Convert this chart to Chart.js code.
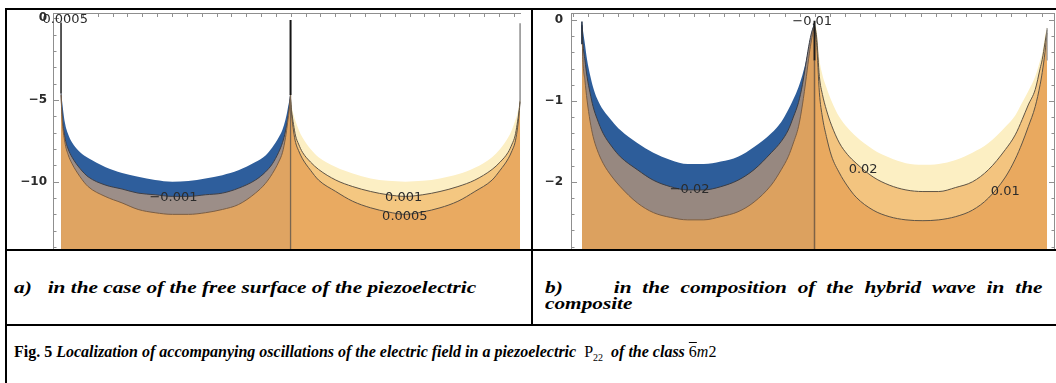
<!DOCTYPE html>
<html><head><meta charset="utf-8">
<script src="https://cdn.jsdelivr.net/npm/chart.js@4.4.1/dist/chart.umd.min.js"></script>
<style>
html,body{margin:0;padding:0;background:#fff;width:1056px;height:383px;overflow:hidden;position:relative;}
.ln{position:absolute;background:#000;z-index:5;}
.cap{position:absolute;font-family:"Liberation Serif","Times New Roman",serif;font-weight:bold;font-style:italic;font-size:16px;line-height:16px;color:#000;white-space:nowrap;z-index:6;transform-origin:0 0;}
.wide{transform:scaleX(1.33);}
.rg{font-weight:normal;font-style:normal;}
#wa{position:absolute;left:8px;top:9px;width:514px;height:240px;}
#wb{position:absolute;left:534px;top:9px;width:522px;height:240px;}
</style></head><body>
<div id="wa"><canvas id="ca"></canvas></div>
<div id="wb"><canvas id="cb"></canvas></div>

<div class="ln" style="left:5px;top:8px;width:1051px;height:2px"></div>
<div class="ln" style="left:5px;top:8px;width:2px;height:375px"></div>
<div class="ln" style="left:531px;top:8px;width:2px;height:318px"></div>
<div class="ln" style="left:5px;top:249px;width:1051px;height:2px"></div>
<div class="ln" style="left:5px;top:324px;width:1051px;height:2px"></div>

<div class="cap wide" style="left:14px;top:280px;">a)&nbsp;&nbsp; in the case of the free surface of the piezoelectric</div>
<div class="cap wide" style="left:545px;top:280px;width:374px;white-space:normal;text-align:justify;text-align-last:justify;">b) <span style="display:inline-block;width:22px"></span> in the composition of the hybrid wave in the</div>
<div class="cap wide" style="left:545px;top:296px;">composite</div>
<div class="cap" style="left:14px;top:344px;"><span style="font-style:normal">Fig. 5</span> Localization of accompanying oscillations of the electric field in a piezoelectric <span class="rg">&nbsp;P<sub style="font-size:10px">22</sub>&nbsp;</span> of the class <span class="rg"><span style="text-decoration:overline">6</span><i>m</i>2</span></div>

<script>
// ---------- Panel a: free surface ----------
const aLX = [0, .004, .017, .031, .048, .083, .118, .192, .266, .336, .41, .485, .555, .629, .703, .773, .847, .891, .921, .948, .965, .978, .987, .996, 1];
const aBlueTop = [-4.5, -5.0, -6.4, -7.1, -7.6, -8.2, -8.55, -9.1, -9.47, -9.7, -9.9, -10.0, -9.96, -9.8, -9.6, -9.3, -8.8, -8.4, -7.9, -7.3, -6.8, -6.2, -5.6, -4.9, -4.5];
const aNeg001 = [-4.6, -5.8, -7.3, -8.0, -8.5, -9.2, -9.7, -10.2, -10.45, -10.7, -10.8, -10.9, -10.9, -10.8, -10.7, -10.4, -9.9, -9.4, -8.9, -8.2, -7.6, -6.9, -6.2, -5.2, -4.6];
const aGreyLow = [-4.7, -6.0, -7.6, -8.35, -8.9, -9.7, -10.3, -10.9, -11.3, -11.7, -11.9, -12.0, -12.0, -11.9, -11.7, -11.4, -10.7, -10.1, -9.5, -8.8, -8.2, -7.3, -6.4, -5.4, -4.7];
const aRX = [1, 1.004, 1.013, 1.022, 1.035, 1.052, 1.087, 1.122, 1.197, 1.271, 1.349, 1.424, 1.5, 1.576, 1.651, 1.729, 1.803, 1.878, 1.913, 1.948, 1.965, 1.978, 1.987, 1.996, 2];
const aYellowTop = [-4.8, -5.3, -5.9, -6.3, -6.8, -7.3, -8.0, -8.5, -9.1, -9.5, -9.8, -9.95, -10.0, -9.95, -9.8, -9.55, -9.15, -8.5, -8.0, -7.3, -6.8, -6.3, -5.9, -5.3, -5.0];
const aPos001 = [-4.9, -5.6, -6.5, -7.2, -7.7, -8.2, -8.8, -9.25, -9.9, -10.3, -10.6, -10.8, -10.9, -10.8, -10.6, -10.3, -9.9, -9.25, -8.8, -8.2, -7.7, -7.2, -6.5, -5.6, -5.0];
const aPos0005 = [-5.0, -5.8, -6.9, -7.6, -8.1, -8.6, -9.3, -9.9, -10.6, -11.2, -11.6, -11.85, -12.0, -11.85, -11.6, -11.2, -10.6, -9.9, -9.3, -8.6, -8.1, -7.6, -6.9, -5.8, -5.1];
const aSpikeX = [0, 1, 1, 2];
const aSpikeTop = [-0.25, -0.1, -4.7, -0.3];
const aSpikeBottom = [-4.6, -4.7, -14.12, -5.0];
const aYLabels = [0, -5, -10];
const aLabelText = ['\u22120.001', '0.001', '0.0005', '0.0005'];
const aLabelX = [0.49, 1.493, 1.498, 0.018];
const aLabelY = [-10.95, -11.0, -12.15, -0.1];

// ---------- Panel b: hybrid wave in composite ----------
const bLX = [0, .004, .013, .022, .035, .048, .065, .091, .13, .165, .238, .307, .381, .455, .524, .597, .671, .74, .814, .857, .887, .909, .931, .948, .965, .978, .987, .996, 1];
const bBlueTop = [-0.04, -0.12, -0.3, -0.49, -0.68, -0.83, -0.97, -1.11, -1.25, -1.36, -1.52, -1.64, -1.73, -1.78, -1.78, -1.75, -1.69, -1.57, -1.40, -1.26, -1.11, -0.98, -0.83, -0.68, -0.49, -0.30, -0.18, -0.06, -0.04];
const bNeg002 = [-0.06, -0.28, -0.5, -0.70, -0.9, -1.07, -1.22, -1.40, -1.57, -1.69, -1.85, -1.98, -2.06, -2.10, -2.10, -2.06, -1.98, -1.85, -1.64, -1.5, -1.36, -1.2, -1.02, -0.8, -0.5, -0.28, -0.16, -0.08, -0.06];
const bGreyLow = [-0.08, -0.49, -0.75, -0.99, -1.25, -1.44, -1.6, -1.77, -1.94, -2.06, -2.26, -2.38, -2.44, -2.47, -2.47, -2.43, -2.37, -2.25, -2.04, -1.85, -1.69, -1.52, -1.32, -1.05, -0.7, -0.41, -0.25, -0.12, -0.1];
const bRX = [1, 1.009, 1.021, 1.034, 1.051, 1.073, 1.107, 1.141, 1.179, 1.252, 1.321, 1.393, 1.466, 1.534, 1.607, 1.679, 1.748, 1.821, 1.863, 1.893, 1.919, 1.949, 1.970, 1.979, 1.991, 2];
const bYellowTop = [-0.04, -0.12, -0.49, -0.68, -0.83, -1.0, -1.20, -1.33, -1.44, -1.60, -1.70, -1.77, -1.79, -1.78, -1.73, -1.64, -1.52, -1.32, -1.18, -1.02, -0.88, -0.70, -0.50, -0.41, -0.2, -0.08];
const bPos002 = [-0.06, -0.21, -0.70, -0.92, -1.11, -1.3, -1.52, -1.66, -1.77, -1.94, -2.04, -2.10, -2.12, -2.12, -2.07, -2.00, -1.85, -1.60, -1.42, -1.23, -1.05, -0.86, -0.6, -0.49, -0.28, -0.12];
const bPos001 = [-0.08, -0.28, -0.90, -1.2, -1.44, -1.68, -1.89, -2.05, -2.19, -2.35, -2.43, -2.47, -2.48, -2.47, -2.43, -2.35, -2.20, -1.94, -1.72, -1.52, -1.32, -1.07, -0.8, -0.65, -0.4, -0.16];
const bSpikeX = [0, 1, 1, 2];
const bSpikeTop = [-0.02, -0.01, -0.5, -0.1];
const bSpikeBottom = [-0.3, -0.5, -2.83, -0.5];
const bYLabels = [0, -1, -2];
const bLabelText = ['\u22120.02', '0.02', '0.01', '\u22120.01'];
const bLabelX = [0.463, 1.209, 1.82, 0.99];
const bLabelY = [-2.10, -1.85, -2.12, -0.025];

// ---------- helpers ----------
const pts = (xs, ys) => xs.map((x, i) => ({x: x, y: ys[i]}));
function band(xs, ys, fillColor, lineColor, lw) {
  return {data: pts(xs, ys), fill: 'start', backgroundColor: fillColor,
    borderColor: lineColor || 'rgba(0,0,0,0)', borderWidth: lw || 0,
    pointRadius: 0, cubicInterpolationMode: 'monotone'};
}
function spike(x, top, bottom, color, lw) {
  return {data: [{x: x, y: top}, {x: x, y: bottom}], fill: false, borderColor: color,
    borderWidth: lw, pointRadius: 0};
}
function framePlugin(cfg) {
  return {
    id: 'frame',
    afterDatasetsDraw(chart) {
      const {ctx, chartArea: a, scales: {x, y}} = chart;
      ctx.save();
      ctx.strokeStyle = '#8f8f8f'; ctx.lineWidth = 1;
      ctx.beginPath();
      ctx.moveTo(a.left + 0.5, a.top); ctx.lineTo(a.left + 0.5, a.bottom);
      ctx.moveTo(a.left, a.top + 0.5); ctx.lineTo(a.right, a.top + 0.5);
      if (cfg.right) { ctx.moveTo(a.right - 0.5, a.top); ctx.lineTo(a.right - 0.5, a.bottom); }
      ctx.stroke();
      ctx.beginPath();
      for (let k = 0; ; k++) {
        const tv = Math.round((cfg.yMax - k * cfg.yStep) * 1000) / 1000;
        if (tv < cfg.yMin) break;
        const py = Math.round(y.getPixelForValue(tv)) + 0.5;
        const major = Math.abs(tv / cfg.yMajor - Math.round(tv / cfg.yMajor)) < 1e-6;
        const L = major ? 6 : 3.5;
        ctx.moveTo(a.left, py); ctx.lineTo(a.left + L, py);
        if (cfg.right) { ctx.moveTo(a.right, py); ctx.lineTo(a.right - L, py); }
      }
      for (let v = cfg.xStart; v < x.max; v += cfg.xStep) {
        const px = Math.round(x.getPixelForValue(v)) + 0.5;
        ctx.moveTo(px, a.top); ctx.lineTo(px, a.top + 4);
      }
      ctx.stroke();
      ctx.restore();
    }
  };
}
function labelPlugin(texts, xs, ys) {
  return {
    id: 'clabels',
    afterDatasetsDraw(chart) {
      const {ctx, scales: {x, y}} = chart;
      ctx.save();
      ctx.font = '13px "DejaVu Sans", sans-serif';
      ctx.fillStyle = '#2b2b2b'; ctx.textAlign = 'center'; ctx.textBaseline = 'middle';
      texts.forEach((t, i) => ctx.fillText(t, x.getPixelForValue(xs[i]), y.getPixelForValue(ys[i])));
      ctx.restore();
    }
  };
}
function makeChart(id, datasets, o) {
  return new Chart(document.getElementById(id), {
    type: 'line',
    data: {datasets: datasets},
    options: {
      responsive: true, maintainAspectRatio: false, animation: false, devicePixelRatio: 1,
      layout: {padding: {left: 0, top: 0, right: 1, bottom: 0}},
      plugins: {legend: {display: false}, tooltip: {enabled: false}},
      scales: {
        x: {type: 'linear', position: 'top', min: o.xMin, max: o.xMax,
          ticks: {display: false}, grid: {display: false, drawTicks: false}, border: {display: false},
          afterFit: s => { s.height = 4; s.paddingLeft = 0; s.paddingRight = 0; }},
        y: {type: 'linear', position: 'left', min: o.yMin, max: o.yMax,
          afterBuildTicks: s => { s.ticks = o.yLabels.map(v => ({value: v})); },
          ticks: {autoSkip: false, padding: o.pad, color: '#2a2a2a',
            font: {family: '"DejaVu Sans", sans-serif', size: 12, weight: 'bold'},
            callback: v => (v < 0 ? '\u2212' + Math.abs(v) : String(v))},
          grid: {display: false, drawTicks: false}, border: {display: false},
          afterFit: s => { s.width = o.axisW; s.paddingTop = 0; s.paddingBottom = 0; }}
      }
    },
    plugins: [framePlugin(o.frame), labelPlugin(o.lt, o.lx, o.ly)]
  });
}

// ---------- Panel a ----------
makeChart('ca', [
  spike(aSpikeX[1], aSpikeTop[1], aSpikeBottom[1], '#151515', 2),
  spike(aSpikeX[2], aSpikeTop[2], aSpikeBottom[2], '#7a6650', 1.3),
  spike(aSpikeX[0], aSpikeTop[0], aSpikeBottom[0], '#222222', 1.5),
  spike(aSpikeX[3], aSpikeTop[3], aSpikeBottom[3], '#8d8d8d', 1.5),
  band(aLX, aGreyLow, '#dfa462', '#7b5e44', 1),
  band(aLX, aNeg001, '#9c8e88', '#3d3f48', 1),
  band(aLX, aBlueTop, '#2e5e9c'),
  band(aRX, aPos0005, '#e9aa61', '#5f5445', 1),
  band(aRX, aPos001, '#f4c781', '#5f5445', 1),
  band(aRX, aYellowTop, '#fcefc4')
], {xMin: -0.035, xMax: 2.004, yMin: -14.12, yMax: 0.324, yLabels: aYLabels, pad: 6, axisW: 45,
    lt: aLabelText, lx: aLabelX, ly: aLabelY,
    frame: {right: false, yMax: 0, yMin: -14.12, yStep: 1, yMajor: 5, xStart: 0.0305, xStep: 0.0647}});

// ---------- Panel b ----------
makeChart('cb', [
  spike(bSpikeX[1], bSpikeTop[1], bSpikeBottom[1], '#1c1c1c', 2),
  spike(bSpikeX[2], bSpikeTop[2], bSpikeBottom[2], '#7d6246', 1.5),
  spike(bSpikeX[0], bSpikeTop[0], bSpikeBottom[0], '#1a2a40', 1.5),
  spike(bSpikeX[3], bSpikeTop[3], bSpikeBottom[3], '#999999', 1.2),
  band(bLX, bGreyLow, '#dca15f', '#7b5e44', 1),
  band(bLX, bNeg002, '#978880', '#3a3d45', 1),
  band(bLX, bBlueTop, '#2d5d9a'),
  band(bRX, bPos001, '#e9a95f', '#5f5445', 1),
  band(bRX, bPos002, '#f3c47f', '#5f5445', 1),
  band(bRX, bYellowTop, '#fcefc3')
], {xMin: -0.047, xMax: 2.034, yMin: -2.83, yMax: 0.086, yLabels: bYLabels, pad: 8, axisW: 37,
    lt: bLabelText, lx: bLabelX, ly: bLabelY,
    frame: {right: true, yMax: 0, yMin: -2.83, yStep: 0.2, yMajor: 1, xStart: -0.039, xStep: 0.065}});
</script>
</body></html>
